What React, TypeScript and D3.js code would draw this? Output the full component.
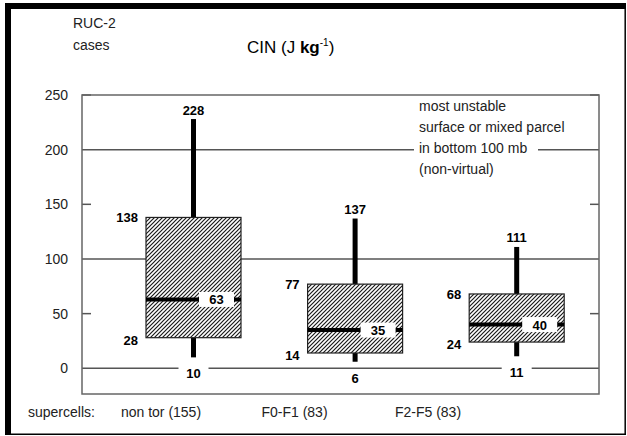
import React from "react";
import * as d3 from "d3";

const categories = ["non tor (155)", "F0-F1 (83)", "F2-F5 (83)"];
const mins = [10, 6, 11];
const q1s = [28, 14, 24];
const medians = [63, 35, 40];
const q3s = [138, 77, 68];
const maxs = [228, 137, 111];
const yTicks = [0, 50, 100, 150, 200, 250];
const gridValues = [0, 100, 200];
const annotationLines = ["most unstable", "surface or mixed parcel", "in bottom 100 mb", "(non-virtual)"];

const W = 627;
const H = 436;
const plotLeft = 82;
const plotRight = 599;
const plotTop = 95;
const plotBottom = 394;
const FONT = "'Liberation Sans', Arial, sans-serif";

export default function App() {
  const y = d3.scaleLinear().domain([0, 250]).range([368.3, 95]);
  const x = d3.scalePoint<string>().domain(categories).range([193.5, 516.7]);
  const xl = d3.scalePoint<string>().domain(categories).range([161, 428]);
  const boxW = 95;

  return (
    <svg
      width={W}
      height={H}
      style={{ position: "absolute", left: 0, top: 0, background: "#fff" }}
      fontFamily={FONT}
    >
      <defs>
        <pattern id="hatch" patternUnits="userSpaceOnUse" width="4" height="4">
          <rect width="4" height="4" fill="#fff" />
          <path d="M-1,1 l2,-2 M0,4 l4,-4 M3,5 l2,-2" stroke="#1a1a1a" strokeWidth="1.2" />
        </pattern>
      </defs>
      <rect x={0} y={0} width={W} height={H} fill="#fff" />
      {/* outer frame */}
      <rect x={5} y={3} width={6} height={432} fill="#000" />
      <rect x={5} y={3} width={621} height={6} fill="#000" />
      <line x1={625.2} x2={625.2} y1={3} y2={435} stroke="#000" strokeWidth={1.5} />
      <line x1={5} x2={626} y1={434.2} y2={434.2} stroke="#000" strokeWidth={1.5} />

      {/* header */}
      <text x={73} y={28} fontSize={14} fill="#222">RUC-2</text>
      <text x={73} y={50} fontSize={14} fill="#222">cases</text>
      <text x={247} y={53} fontSize={17} fill="#000">
        CIN (J <tspan fontWeight="bold">kg</tspan>
        <tspan fontSize={10} dy={-7}>-1</tspan>
        <tspan dy={7}>)</tspan>
      </text>

      {/* grid lines */}
      {gridValues.map((v) => (
        <line key={"g" + v} x1={plotLeft} x2={plotRight} y1={y(v)} y2={y(v)} stroke="#555" strokeWidth={1.5} />
      ))}
      {/* ticks */}
      {yTicks.filter((v) => gridValues.indexOf(v) < 0).map((v) => (
        <g key={"t" + v}>
          <line x1={plotLeft} x2={plotLeft + 9} y1={y(v)} y2={y(v)} stroke="#555" strokeWidth={1.5} />
          <line x1={plotRight - 9} x2={plotRight} y1={y(v)} y2={y(v)} stroke="#555" strokeWidth={1.5} />
        </g>
      ))}
      {yTicks.map((v) => (
        <text key={"l" + v} x={68} y={y(v) + 5} fontSize={14} textAnchor="end" fill="#222">
          {v}
        </text>
      ))}

      {/* annotation */}
      <rect x={414} y={y(200) - 6} width={124} height={12} fill="#fff" />
      {annotationLines.map((s, i) => (
        <text key={"a" + i} x={419} y={111 + i * 21} fontSize={14} fill="#222">
          {s}
        </text>
      ))}

      {/* boxes */}
      {categories.map((c, i) => {
        const cx = x(c) as number;
        const bl = cx - boxW / 2;
        const br = cx + boxW / 2;
        const yMed = y(medians[i]);
        return (
          <g key={c}>
            <rect x={cx - 2.5} y={y(maxs[i])} width={5} height={y(q3s[i]) - y(maxs[i])} fill="#000" />
            <rect x={cx - 2.5} y={y(q1s[i])} width={5} height={y(mins[i]) - y(q1s[i])} fill="#000" />
            <rect
              x={bl}
              y={y(q3s[i])}
              width={boxW}
              height={y(q1s[i]) - y(q3s[i])}
              fill="url(#hatch)"
              stroke="#222"
              strokeWidth={1.2}
            />
            <line x1={bl} x2={br} y1={yMed} y2={yMed} stroke="#000" strokeWidth={4} />
            <rect x={br - 42} y={yMed - 7.5} width={35} height={15} fill="#fff" />
            <text x={br - 24.5} y={yMed + 5} fontSize={13} fontWeight="bold" textAnchor="middle">
              {medians[i]}
            </text>
            <text x={cx} y={y(maxs[i]) - 4.5} fontSize={13} fontWeight="bold" textAnchor="middle">
              {maxs[i]}
            </text>
            <text x={bl - 8} y={y(q3s[i]) + 5} fontSize={13} fontWeight="bold" textAnchor="end">
              {q3s[i]}
            </text>
            <text x={bl - 8} y={y(q1s[i]) + 7} fontSize={13} fontWeight="bold" textAnchor="end">
              {q1s[i]}
            </text>
            <rect x={cx - 15} y={y(mins[i]) + 9} width={30} height={13} fill="#fff" />
            <text x={cx} y={y(mins[i]) + 21} fontSize={13} fontWeight="bold" textAnchor="middle">
              {mins[i]}
            </text>
          </g>
        );
      })}

      {/* plot frame */}
      <rect
        x={plotLeft}
        y={plotTop}
        width={plotRight - plotLeft}
        height={plotBottom - plotTop}
        fill="none"
        stroke="#666"
        strokeWidth={1.5}
      />

      {/* x labels */}
      <text x={28} y={417} fontSize={14} fill="#222">supercells:</text>
      {categories.map((c) => (
        <text key={"x" + c} x={xl(c) as number} y={417} fontSize={14} textAnchor="middle" fill="#222">
          {c}
        </text>
      ))}
    </svg>
  );
}
